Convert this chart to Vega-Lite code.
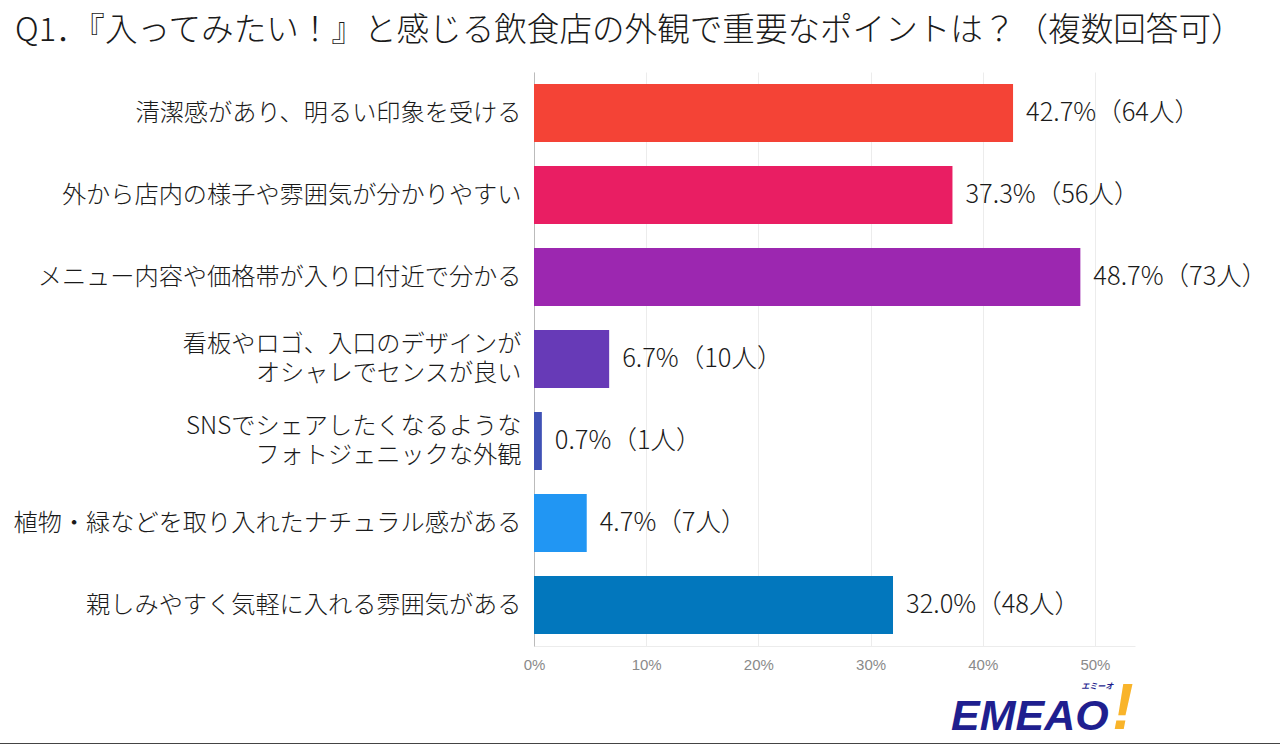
{
  "$schema": "https://vega.github.io/schema/vega-lite/v6.json",
  "background": "white",
  "autosize": "none",
  "padding": {"left": 534, "top": 72, "right": 145, "bottom": 98},
  "width": 601,
  "height": 574,
  "view": {"stroke": null},
  "title": {
    "text": "Q1．『入ってみたい！』と感じる飲食店の外観で重要なポイントは？（複数回答可）",
    "anchor": "start",
    "frame": "group",
    "dx": -519,
    "offset": 24,
    "font": "Noto Sans CJK JP",
    "fontSize": 32.6,
    "fontWeight": 300,
    "color": "#1a1a1a"
  },
  "layer": [
    {
      "data": {"name": "answers", "values": [
        {"item": "清潔感があり、明るい印象を受ける", "share": 42.7, "text": "42.7%（64人）", "color": "a"},
        {"item": "外から店内の様子や雰囲気が分かりやすい", "share": 37.3, "text": "37.3%（56人）", "color": "b"},
        {"item": "メニュー内容や価格帯が入り口付近で分かる", "share": 48.7, "text": "48.7%（73人）", "color": "c"},
        {"item": "看板やロゴ、入口のデザインが\nオシャレでセンスが良い", "share": 6.7, "text": "6.7%（10人）", "color": "d"},
        {"item": "SNSでシェアしたくなるような\nフォトジェニックな外観", "share": 0.7, "text": "0.7%（1人）", "color": "e"},
        {"item": "植物・緑などを取り入れたナチュラル感がある", "share": 4.7, "text": "4.7%（7人）", "color": "f"},
        {"item": "親しみやすく気軽に入れる雰囲気がある", "share": 32.0, "text": "32.0%（48人）", "color": "g"}
      ]},
      "layer": [
        {
          "mark": {"type": "bar"},
          "encoding": {
            "x": {
              "field": "share",
              "type": "quantitative",
              "scale": {"domain": [0, 53.57], "nice": false},
              "axis": {
                "title": null,
                "values": [0, 10, 20, 30, 40, 50],
                "labelExpr": "datum.value + '%'",
                "labelFont": "Liberation Sans",
                "labelFontSize": 15,
                "labelColor": "#8a8a8a",
                "labelPadding": 11,
                "labelFlush": false,
                "ticks": false,
                "domainColor": "#ececec",
                "grid": true,
                "gridColor": "#ececec"
              }
            },
            "y": {
              "field": "item",
              "type": "nominal",
              "sort": null,
              "scale": {"paddingInner": 0.293, "paddingOuter": 0.146},
              "axis": {
                "title": null,
                "ticks": false,
                "labelExpr": "split(datum.label, '\\n')",
                "labelFont": "Noto Sans CJK JP",
                "labelFontSize": 24.2,
                "labelFontWeight": 300,
                "labelColor": "#1a1a1a",
                "labelLimit": 600,
                "labelLineHeight": 29,
                "labelPadding": 13,
                "labelOffset": {"condition": {"test": "indexof(datum.value, '\\n') >= 0", "value": -14}, "value": 1},
                "domainColor": "#bbbbbb"
              }
            },
            "color": {
              "field": "color",
              "type": "nominal",
              "legend": null,
              "scale": {
                "domain": ["a", "b", "c", "d", "e", "f", "g"],
                "range": ["#F44336", "#E91E63", "#9C27B0", "#673AB7", "#3F51B5", "#2196F3", "#0277BD"]
              }
            }
          }
        },
        {
          "mark": {"type": "text", "align": "left", "dx": 13, "font": "Noto Sans CJK JP", "fontSize": 25.5, "fontWeight": 300, "color": "#1a1a1a"},
          "encoding": {
            "x": {"field": "share", "type": "quantitative"},
            "y": {"field": "item", "type": "nominal", "sort": null},
            "text": {"field": "text"}
          }
        }
      ]
    },
    {
      "data": {"values": [{"share": 44.2, "logo": "EMEAO"}]},
      "mark": {"type": "text", "align": "center", "font": "Liberation Sans", "fontSize": 43, "fontWeight": "bold", "fontStyle": "italic", "color": "#1F1F8F", "yOffset": 112},
      "encoding": {
        "x": {"field": "share", "type": "quantitative"},
        "y": {"datum": "親しみやすく気軽に入れる雰囲気がある"},
        "text": {"field": "logo"}
      }
    },
    {
      "data": {"values": [{"share": 52.5, "logo": "!"}]},
      "mark": {"type": "text", "align": "center", "font": "Liberation Sans", "fontSize": 64, "fontWeight": "bold", "fontStyle": "italic", "color": "#F9B42A", "yOffset": 105},
      "encoding": {
        "x": {"field": "share", "type": "quantitative"},
        "y": {"datum": "親しみやすく気軽に入れる雰囲気がある"},
        "text": {"field": "logo"}
      }
    },
    {
      "data": {"values": [{"share": 50.2, "logo": "エミーオ"}]},
      "mark": {"type": "text", "align": "center", "font": "Noto Sans CJK JP", "fontSize": 8, "fontWeight": "bold", "fontStyle": "italic", "color": "#1F1F8F", "yOffset": 82},
      "encoding": {
        "x": {"field": "share", "type": "quantitative"},
        "y": {"datum": "親しみやすく気軽に入れる雰囲気がある"},
        "text": {"field": "logo"}
      }
    },
    {
      "data": {"values": [{"from": -47.6, "to": 66.5}]},
      "mark": {"type": "rule", "color": "#444444", "strokeWidth": 2, "yOffset": 139},
      "encoding": {
        "x": {"field": "from", "type": "quantitative"},
        "x2": {"field": "to"},
        "y": {"datum": "親しみやすく気軽に入れる雰囲気がある"}
      }
    }
  ]
}
